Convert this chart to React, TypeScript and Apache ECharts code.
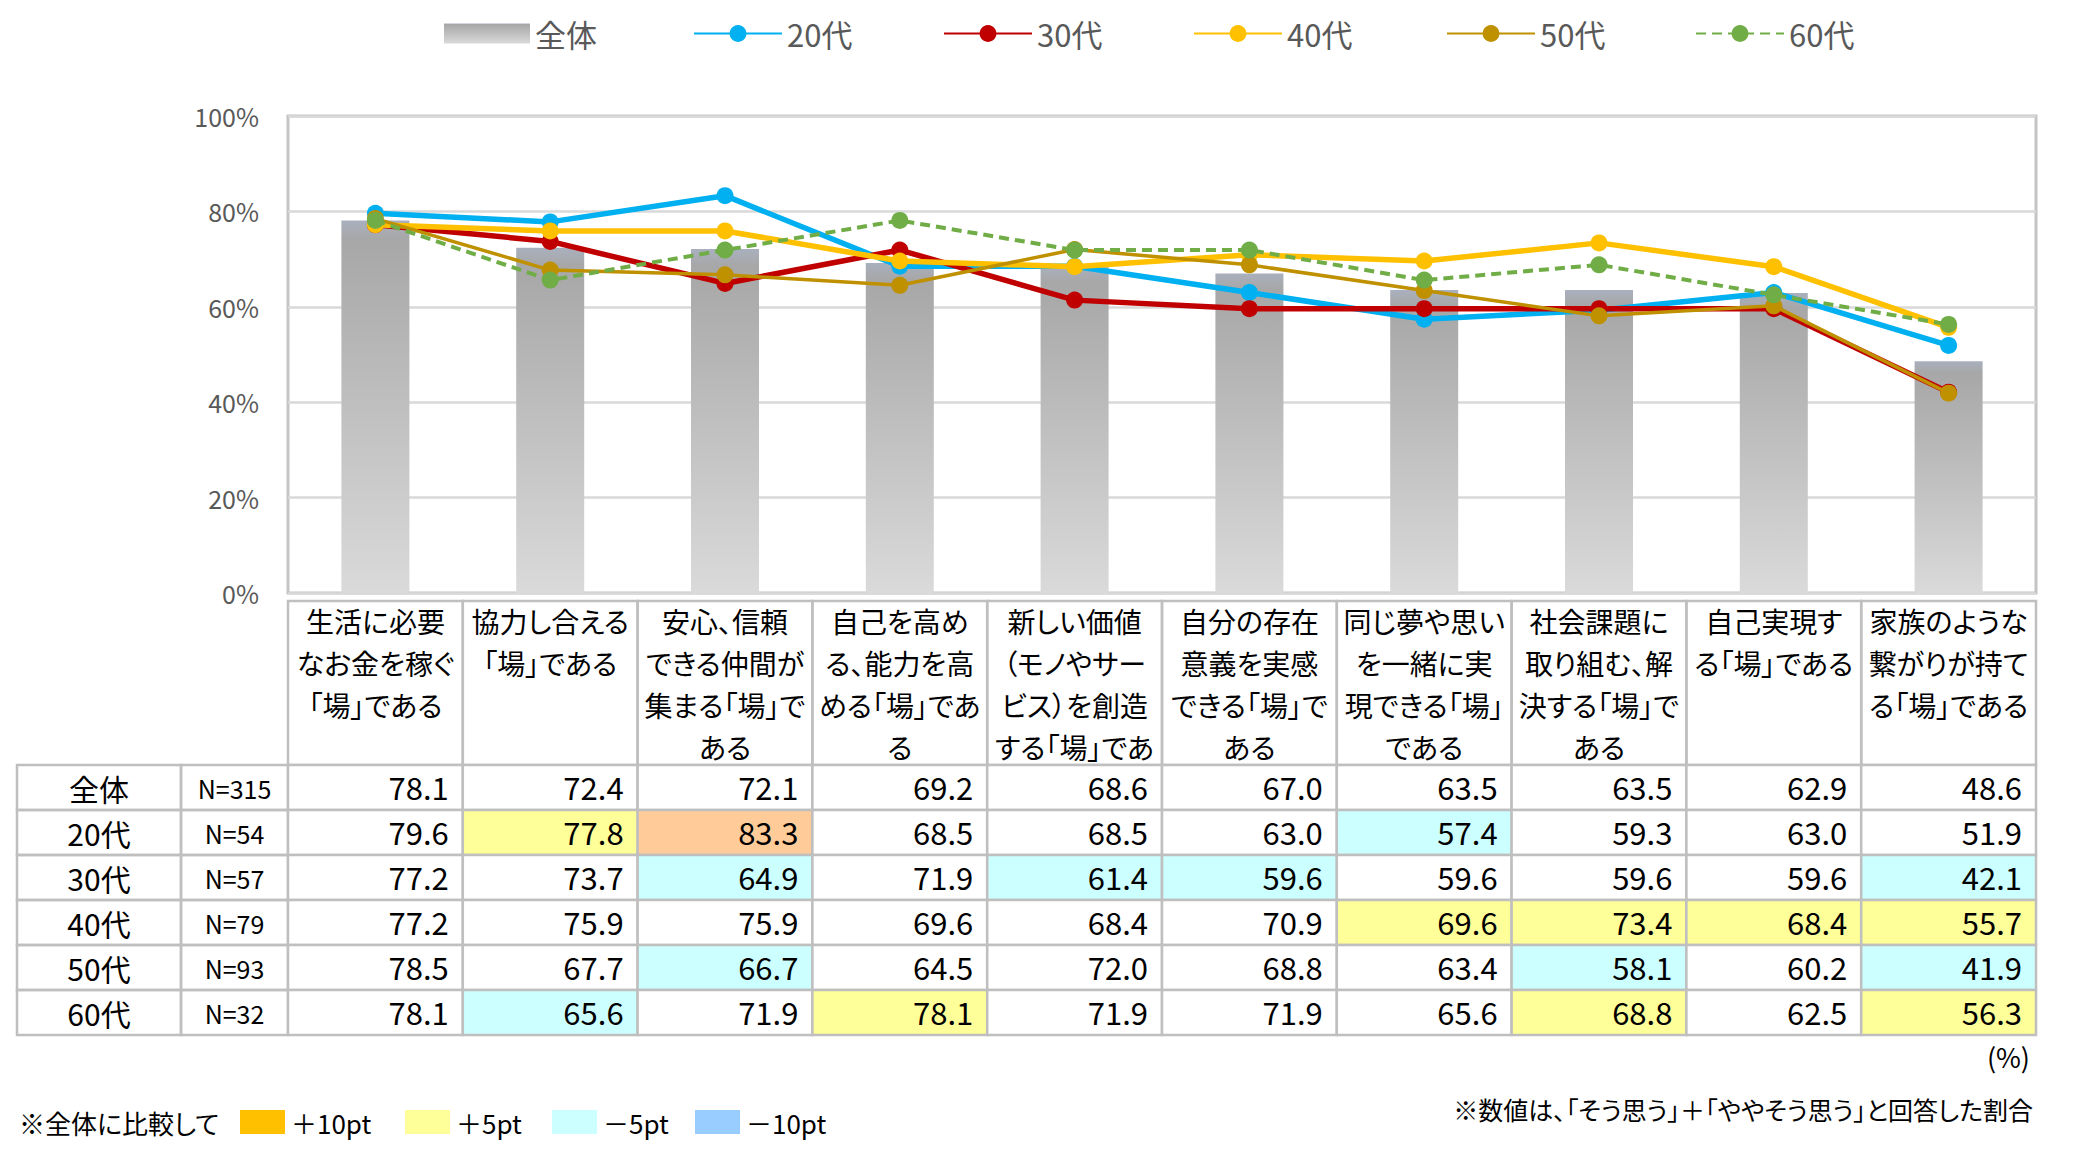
import React, { useEffect, useRef } from "react";
import * as echarts from "echarts";

// ---------- data ----------
const categories = [
  "生活に必要\nなお金を稼ぐ\n「場」である",
  "協力し合える\n「場」である",
  "安心、信頼\nできる仲間が\n集まる「場」で\nある",
  "自己を高め\nる、能力を高\nめる「場」であ\nる",
  "新しい価値\n（モノやサー\nビス）を創造\nする「場」であ",
  "自分の存在\n意義を実感\nできる「場」で\nある",
  "同じ夢や思い\nを一緒に実\n現できる「場」\nである",
  "社会課題に\n取り組む、解\n決する「場」で\nある",
  "自己実現す\nる「場」である",
  "家族のような\n繋がりが持て\nる「場」である",
];
const groups = ["全体", "20代", "30代", "40代", "50代", "60代"];
const sampleSizes = [315, 54, 57, 79, 93, 32];
const overall = [78.1, 72.4, 72.1, 69.2, 68.6, 67.0, 63.5, 63.5, 62.9, 48.6];
const age20 = [79.6, 77.8, 83.3, 68.5, 68.5, 63.0, 57.4, 59.3, 63.0, 51.9];
const age30 = [77.2, 73.7, 64.9, 71.9, 61.4, 59.6, 59.6, 59.6, 59.6, 42.1];
const age40 = [77.2, 75.9, 75.9, 69.6, 68.4, 70.9, 69.6, 73.4, 68.4, 55.7];
const age50 = [78.5, 67.7, 66.7, 64.5, 72.0, 68.8, 63.4, 58.1, 60.2, 41.9];
const age60 = [78.1, 65.6, 71.9, 78.1, 71.9, 71.9, 65.6, 68.8, 62.5, 56.3];
const yTicks = { min: 0, max: 100, interval: 20 };
const diffLegend = ["＋10pt", "＋5pt", "－5pt", "－10pt"];
const noteLeft = "※全体に比較して";
const noteRight = "※数値は、「そう思う」＋「ややそう思う」と回答した割合";
const unitLabel = "(%)";

// ---------- styles ----------
const FONT = '"Noto Sans CJK JP", "Noto Sans", sans-serif';
const BORDER = "#BFBFBF";
const lineStyles = [
  { color: "#00B0F0", width: 5.5, type: "solid" },
  { color: "#C00000", width: 5.5, type: "solid" },
  { color: "#FFC000", width: 5.5, type: "solid" },
  { color: "#BF9000", width: 3.5, type: "solid" },
  { color: "#70AD47", width: 4, type: [10, 6] },
];
const legendLefts = [444, 693, 943, 1193, 1446, 1695];
const diffLegendColors = ["#FFC000", "#FFFF99", "#CCFFFF", "#99CCFF"];
const diffLegendX = [240, 405, 552, 695];

const G0 = { left: 288, top: 116, width: 1748, height: 477 };
const G1 = { left: 288, top: 765, width: 1748, height: 270 };
const HEADER_TOP = 601;
const ROW_H = 45;

function cellFill(diff: number) {
  if (diff >= 10) return "#FFCC99";
  if (diff >= 5) return "#FFFF99";
  if (diff <= -10) return "#99CCFF";
  if (diff <= -5) return "#CCFFFF";
  return "#FFFFFF";
}

export default function App() {
  const ref = useRef<HTMLDivElement>(null);

  useEffect(() => {
    if (!ref.current) return;
    const chart = echarts.init(ref.current, undefined, { renderer: "svg" });

    const rows = [overall, age20, age30, age40, age50, age60];
    const cells: number[][] = [];
    rows.forEach((row, r) =>
      row.forEach((v, c) => cells.push([c, r, v, v - overall[c]]))
    );

    const barGradient = new echarts.graphic.LinearGradient(0, 0, 0, 1, [
      { offset: 0, color: "#A9B0BE" },
      { offset: 0.05, color: "#A7A7A7" },
      { offset: 1, color: "#DADADA" },
    ]);

    const colW = G0.width / categories.length;
    const graphic: any[] = [];
    categories.forEach((_, i) => {
      graphic.push({
        type: "rect",
        silent: true,
        shape: { x: G0.left + i * colW, y: HEADER_TOP, width: colW, height: G1.top - HEADER_TOP },
        style: { fill: "none", stroke: BORDER, lineWidth: 2.5 },
      });
    });
    groups.forEach((_, r) => {
      graphic.push({
        type: "rect",
        silent: true,
        shape: { x: 17, y: G1.top + r * ROW_H, width: 164, height: ROW_H },
        style: { fill: "none", stroke: BORDER, lineWidth: 2.5 },
      });
      graphic.push({
        type: "rect",
        silent: true,
        shape: { x: 181, y: G1.top + r * ROW_H, width: 107, height: ROW_H },
        style: { fill: "none", stroke: BORDER, lineWidth: 2.5 },
      });
    });
    graphic.push({
      type: "text",
      x: 2030,
      y: 1056,
      style: { text: unitLabel, fill: "#000", fontSize: 27, fontFamily: FONT, align: "right", verticalAlign: "middle" },
    });
    graphic.push({
      type: "text",
      x: 2033,
      y: 1109,
      style: { text: noteRight, fill: "#000", fontSize: 25, fontFamily: FONT, align: "right", verticalAlign: "middle" },
    });
    graphic.push({
      type: "text",
      x: 19,
      y: 1122,
      style: { text: noteLeft, fill: "#000", fontSize: 26, fontFamily: FONT, align: "left", verticalAlign: "middle" },
    });
    diffLegend.forEach((t, i) => {
      graphic.push({
        type: "rect",
        shape: { x: diffLegendX[i], y: 1110, width: 45, height: 24 },
        style: { fill: diffLegendColors[i] },
      });
      graphic.push({
        type: "text",
        x: diffLegendX[i] + 51,
        y: 1122,
        style: { text: t, fill: "#000", fontSize: 26, fontFamily: FONT, align: "left", verticalAlign: "middle" },
      });
    });

    const lineData = [age20, age30, age40, age50, age60];

    const option: any = {
      animation: false,
      backgroundColor: "#FFFFFF",
      textStyle: { fontFamily: FONT },
      legend: [
        {
          data: [groups[0]],
          left: legendLefts[0],
          top: 18,
          padding: 0,
          icon: "rect",
          itemWidth: 86,
          itemHeight: 20,
          textStyle: { fontSize: 31, color: "#595959", fontFamily: FONT },
          selectedMode: false,
        },
        ...groups.slice(1).map((g, i) => ({
          data: [g],
          left: legendLefts[i + 1],
          top: 18,
          padding: 0,
          itemWidth: 88,
          itemHeight: 21,
          textStyle: { fontSize: 31, color: "#595959", fontFamily: FONT },
          selectedMode: false,
        })),
      ],
      grid: [
        {
          ...G0,
          show: true,
          borderColor: "#C4C4C4",
          borderWidth: 3,
          containLabel: false,
          outerBoundsMode: "none",
        },
        { ...G1, show: false, containLabel: false, outerBoundsMode: "none" },
      ],
      xAxis: [
        {
          type: "category",
          gridIndex: 0,
          data: categories,
          axisLine: { show: false },
          axisTick: { show: false },
          splitLine: { show: false },
          axisLabel: {
            interval: 0,
            margin: 7,
            fontSize: 28,
            lineHeight: 42,
            color: "#000",
            fontFamily: FONT,
            align: "center",
            verticalAlign: "top",
          },
        },
        {
          type: "category",
          gridIndex: 1,
          data: categories,
          show: false,
        },
      ],
      yAxis: [
        {
          type: "value",
          gridIndex: 0,
          min: yTicks.min,
          max: yTicks.max,
          interval: yTicks.interval,
          axisLine: { show: false },
          axisTick: { show: false },
          splitLine: { show: true, lineStyle: { color: "#D9D9D9", width: 2.5 } },
          axisLabel: {
            formatter: "{value}%",
            fontSize: 25,
            color: "#595959",
            margin: 29,
            fontFamily: FONT,
          },
        },
        {
          type: "category",
          gridIndex: 1,
          data: groups,
          inverse: true,
          axisLine: { show: false },
          axisTick: { show: false },
          splitLine: { show: false },
          axisLabel: {
            interval: 0,
            margin: 0,
            formatter: (value: string, idx: number) => `{a|${value}}{b|N=${sampleSizes[idx]}}`,
            rich: {
              a: { width: 164, align: "center", fontSize: 30, color: "#000", fontFamily: FONT },
              b: { width: 107, align: "center", fontSize: 25, color: "#000", fontFamily: FONT },
            },
          },
        },
      ],
      series: [
        {
          type: "bar",
          name: groups[0],
          xAxisIndex: 0,
          yAxisIndex: 0,
          data: overall,
          barWidth: 68,
          itemStyle: { color: barGradient },
        },
        ...lineData.map((d, i) => ({
          type: "line",
          name: groups[i + 1],
          xAxisIndex: 0,
          yAxisIndex: 0,
          data: d,
          symbol: "circle",
          symbolSize: 17,
          lineStyle: { ...lineStyles[i] },
          itemStyle: { color: lineStyles[i].color },
          z: 3 + i,
        })),
        {
          type: "custom",
          name: "table",
          coordinateSystem: "cartesian2d",
          xAxisIndex: 1,
          yAxisIndex: 1,
          data: cells,
          silent: true,
          renderItem: (params: any, api: any) => {
            const c = api.value(0);
            const r = api.value(1);
            const v = api.value(2);
            const diff = api.value(3);
            const p = api.coord([c, r]);
            const s = api.size([1, 1]);
            return {
              type: "group",
              children: [
                {
                  type: "rect",
                  shape: { x: p[0] - s[0] / 2, y: p[1] - s[1] / 2, width: s[0], height: s[1] },
                  style: { fill: cellFill(diff), stroke: BORDER, lineWidth: 2.5 },
                },
                {
                  type: "text",
                  x: p[0] + s[0] / 2 - 14,
                  y: p[1] - 1,
                  style: {
                    text: Number(v).toFixed(1),
                    fill: "#000",
                    fontSize: 31,
                    fontFamily: FONT,
                    align: "right",
                    verticalAlign: "middle",
                  },
                },
              ],
            };
          },
        },
      ],
      graphic,
    };

    chart.setOption(option);
    return () => chart.dispose();
  }, []);

  return (
    <>
      <style>{`svg text, svg tspan { font-feature-settings: "palt" 1; }`}</style>
      <div
        ref={ref}
        style={{ position: "absolute", left: 0, top: 0, width: 2092, height: 1156, background: "#fff" }}
      />
    </>
  );
}
